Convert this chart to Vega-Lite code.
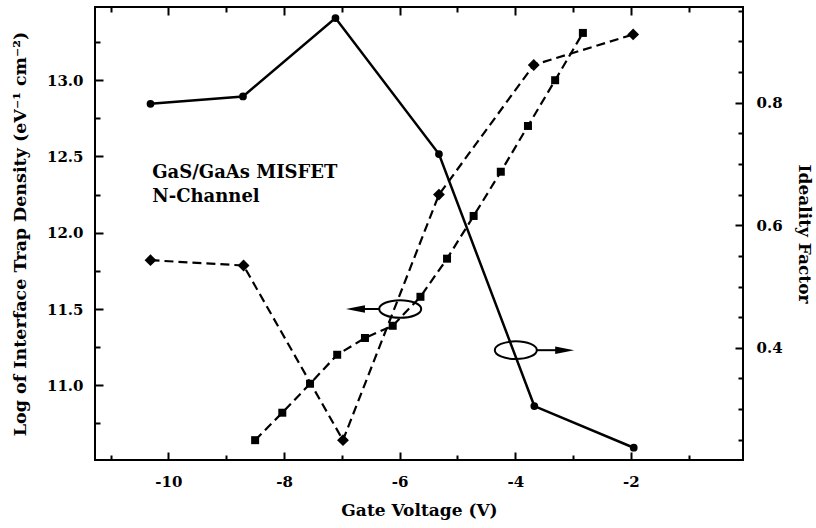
{
  "$schema": "https://vega.github.io/schema/vega-lite/v6.json",
  "width": 648,
  "height": 453,
  "autosize": {"type": "none"},
  "padding": {"left": 95, "top": 7, "right": 73, "bottom": 68},
  "background": "white",
  "datasets": {
    "trap": [
      {"series": "diamond", "v": -10.31, "trap": 11.82},
      {"series": "diamond", "v": -8.70, "trap": 11.785},
      {"series": "diamond", "v": -6.98, "trap": 10.64},
      {"series": "diamond", "v": -5.32, "trap": 12.25},
      {"series": "diamond", "v": -3.68, "trap": 13.10},
      {"series": "diamond", "v": -1.96, "trap": 13.30},
      {"series": "square", "v": -8.50, "trap": 10.64},
      {"series": "square", "v": -8.03, "trap": 10.82},
      {"series": "square", "v": -7.55, "trap": 11.01},
      {"series": "square", "v": -7.08, "trap": 11.20},
      {"series": "square", "v": -6.60, "trap": 11.31},
      {"series": "square", "v": -6.12, "trap": 11.39},
      {"series": "square", "v": -5.64, "trap": 11.58},
      {"series": "square", "v": -5.18, "trap": 11.83},
      {"series": "square", "v": -4.72, "trap": 12.11},
      {"series": "square", "v": -4.25, "trap": 12.40},
      {"series": "square", "v": -3.78, "trap": 12.70},
      {"series": "square", "v": -3.31, "trap": 13.00},
      {"series": "square", "v": -2.83, "trap": 13.31}
    ],
    "ideal": [
      {"v": -10.31, "ideality": 0.798},
      {"v": -8.71, "ideality": 0.810},
      {"v": -7.11, "ideality": 0.938},
      {"v": -5.32, "ideality": 0.716},
      {"v": -3.67, "ideality": 0.305},
      {"v": -1.95, "ideality": 0.237}
    ],
    "ellipses": [
      {"v": -5.99, "y": 11.50},
      {"v": -3.99, "y": 11.23}
    ],
    "arrows": [
      {"v": -6.34, "v2": -6.77, "y": 11.50, "dir": "left", "head": -6.765},
      {"v": -3.64, "v2": -3.15, "y": 11.23, "dir": "right", "head": -3.145}
    ],
    "label": [
      {"v": -10.28, "y": 12.36, "text": ["GaS/GaAs MISFET", "N-Channel"]}
    ]
  },
  "resolve": {
    "scale": {"y": "independent", "shape": "independent", "size": "independent"},
    "axis": {"x": "independent", "y": "independent"}
  },
  "layer": [
    {
      "data": {"name": "trap"},
      "mark": {"type": "line", "strokeDash": [9, 5], "strokeWidth": 2.2, "color": "black"},
      "encoding": {
        "x": {"field": "v", "type": "quantitative",
          "scale": {"domain": [-11.27, -0.06], "nice": false, "zero": false},
          "axis": {"orient": "bottom", "values": [-10, -8, -6, -4, -2], "tickSize": -8,
            "labelExpr": "'-' + format(abs(datum.value), 'd')", "labelPadding": 22,
            "title": "Gate Voltage (V)", "titlePadding": 13}},
        "y": {"field": "trap", "type": "quantitative",
          "scale": {"domain": [10.51, 13.48], "nice": false, "zero": false},
          "axis": {"orient": "left", "values": [11, 11.5, 12, 12.5, 13], "format": ".1f", "tickSize": -8,
            "labelPadding": 20, "title": "Log of  Interface Trap Density (eV⁻¹ cm⁻²)", "titlePadding": 17, "titleFontSize": 17.5}},
        "detail": {"field": "series"}
      }
    },
    {
      "data": {"name": "trap"},
      "mark": {"type": "point", "filled": true, "color": "black", "opacity": 1},
      "encoding": {
        "x": {"field": "v", "type": "quantitative", "scale": {"domain": [-11.27, -0.06], "nice": false, "zero": false}, "axis": null},
        "y": {"field": "trap", "type": "quantitative", "scale": {"domain": [10.51, 13.48], "nice": false, "zero": false}, "axis": null},
        "shape": {"field": "series", "type": "nominal", "scale": {"domain": ["diamond", "square"], "range": ["diamond", "square"]}, "legend": null},
        "size": {"field": "series", "type": "nominal", "scale": {"domain": ["diamond", "square"], "range": [140, 64]}, "legend": null}
      }
    },
    {
      "data": {"name": "ideal"},
      "mark": {"type": "line", "strokeWidth": 2.5, "color": "black"},
      "encoding": {
        "x": {"field": "v", "type": "quantitative", "scale": {"domain": [-11.27, -0.06], "nice": false, "zero": false}, "axis": null},
        "y": {"field": "ideality", "type": "quantitative",
          "scale": {"domain": [0.217, 0.956], "nice": false, "zero": false},
          "axis": {"orient": "right", "values": [0.4, 0.6, 0.8], "format": ".1f", "tickSize": -8,
            "labelPadding": 21, "title": "Ideality Factor", "titlePadding": 12}}
      }
    },
    {
      "data": {"name": "ideal"},
      "mark": {"type": "point", "shape": "circle", "filled": true, "size": 60, "color": "black", "opacity": 1},
      "encoding": {
        "x": {"field": "v", "type": "quantitative", "scale": {"domain": [-11.27, -0.06], "nice": false, "zero": false}, "axis": null},
        "y": {"field": "ideality", "type": "quantitative", "scale": {"domain": [0.217, 0.956], "nice": false, "zero": false}, "axis": null}
      }
    },
    {
      "data": {"name": "trap"},
      "mark": {"type": "point", "opacity": 0},
      "encoding": {
        "x": {"field": "v", "type": "quantitative", "scale": {"domain": [-11.27, -0.06], "nice": false, "zero": false},
          "axis": {"orient": "bottom", "values": [-11, -9, -7, -5, -3, -1], "tickSize": -5, "labels": false, "title": null}},
        "y": {"field": "trap", "type": "quantitative", "scale": {"domain": [10.51, 13.48], "nice": false, "zero": false},
          "axis": {"orient": "left", "values": [10.75, 11.25, 11.75, 12.25, 12.75, 13.25], "tickSize": -5, "labels": false, "title": null}}
      }
    },
    {
      "data": {"name": "ideal"},
      "mark": {"type": "point", "opacity": 0},
      "encoding": {
        "x": {"field": "v", "type": "quantitative", "scale": {"domain": [-11.27, -0.06], "nice": false, "zero": false},
          "axis": {"orient": "top", "values": [-10, -8, -6, -4, -2], "tickSize": -8, "labels": false, "title": null}},
        "y": {"field": "ideality", "type": "quantitative", "scale": {"domain": [0.217, 0.956], "nice": false, "zero": false},
          "axis": {"orient": "right", "values": [0.25, 0.3, 0.35, 0.45, 0.5, 0.55, 0.65, 0.7, 0.75, 0.85, 0.9, 0.95], "tickSize": -5, "labels": false, "title": null}}
      }
    },
    {
      "data": {"name": "ideal"},
      "mark": {"type": "point", "opacity": 0},
      "encoding": {
        "x": {"field": "v", "type": "quantitative", "scale": {"domain": [-11.27, -0.06], "nice": false, "zero": false},
          "axis": {"orient": "top", "values": [-11, -9, -7, -5, -3, -1], "tickSize": -5, "labels": false, "title": null}},
        "y": {"field": "ideality", "type": "quantitative", "scale": {"domain": [0.217, 0.956], "nice": false, "zero": false}, "axis": null}
      }
    },
    {
      "data": {"name": "ellipses"},
      "mark": {"type": "point", "shape": "M -1 0 A 1 0.42 0 1 0 1 0 A 1 0.42 0 1 0 -1 0 Z", "size": 1764, "filled": false, "stroke": "black", "strokeWidth": 2, "opacity": 1},
      "encoding": {
        "x": {"field": "v", "type": "quantitative", "scale": {"domain": [-11.27, -0.06], "nice": false, "zero": false}, "axis": null},
        "y": {"field": "y", "type": "quantitative", "scale": {"domain": [10.51, 13.48], "nice": false, "zero": false}, "axis": null}
      }
    },
    {
      "data": {"name": "arrows"},
      "mark": {"type": "rule", "strokeWidth": 2, "color": "black"},
      "encoding": {
        "x": {"field": "v", "type": "quantitative", "scale": {"domain": [-11.27, -0.06], "nice": false, "zero": false}, "axis": null},
        "x2": {"field": "v2"},
        "y": {"field": "y", "type": "quantitative", "scale": {"domain": [10.51, 13.48], "nice": false, "zero": false}, "axis": null}
      }
    },
    {
      "data": {"name": "arrows"},
      "transform": [{"filter": "datum.dir === 'left'"}],
      "mark": {"type": "point", "filled": true, "size": 361, "color": "black", "opacity": 1, "shape": "M -1 0 L 1 -0.4 L 1 0.4 Z"},
      "encoding": {
        "x": {"field": "head", "type": "quantitative", "scale": {"domain": [-11.27, -0.06], "nice": false, "zero": false}, "axis": null},
        "y": {"field": "y", "type": "quantitative", "scale": {"domain": [10.51, 13.48], "nice": false, "zero": false}, "axis": null}
      }
    },
    {
      "data": {"name": "arrows"},
      "transform": [{"filter": "datum.dir === 'right'"}],
      "mark": {"type": "point", "filled": true, "size": 361, "color": "black", "opacity": 1, "shape": "M 1 0 L -1 -0.4 L -1 0.4 Z"},
      "encoding": {
        "x": {"field": "head", "type": "quantitative", "scale": {"domain": [-11.27, -0.06], "nice": false, "zero": false}, "axis": null},
        "y": {"field": "y", "type": "quantitative", "scale": {"domain": [10.51, 13.48], "nice": false, "zero": false}, "axis": null}
      }
    },
    {
      "data": {"name": "label"},
      "mark": {"type": "text", "align": "left", "baseline": "alphabetic", "font": "DejaVu Serif", "fontWeight": "bold", "fontSize": 18, "lineHeight": 24, "color": "black"},
      "encoding": {
        "x": {"field": "v", "type": "quantitative", "scale": {"domain": [-11.27, -0.06], "nice": false, "zero": false}, "axis": null},
        "y": {"field": "y", "type": "quantitative", "scale": {"domain": [10.51, 13.48], "nice": false, "zero": false}, "axis": null},
        "text": {"field": "text"}
      }
    }
  ],
  "config": {
    "view": {"stroke": "black", "strokeWidth": 2},
    "axis": {
      "domain": false,
      "grid": false,
      "tickColor": "black",
      "tickWidth": 2,
      "labelFont": "DejaVu Serif",
      "labelFontWeight": "bold",
      "labelFontSize": 15,
      "labelColor": "black",
      "titleFont": "DejaVu Serif",
      "titleFontWeight": "bold",
      "titleFontSize": 17,
      "titleColor": "black"
    }
  }
}
